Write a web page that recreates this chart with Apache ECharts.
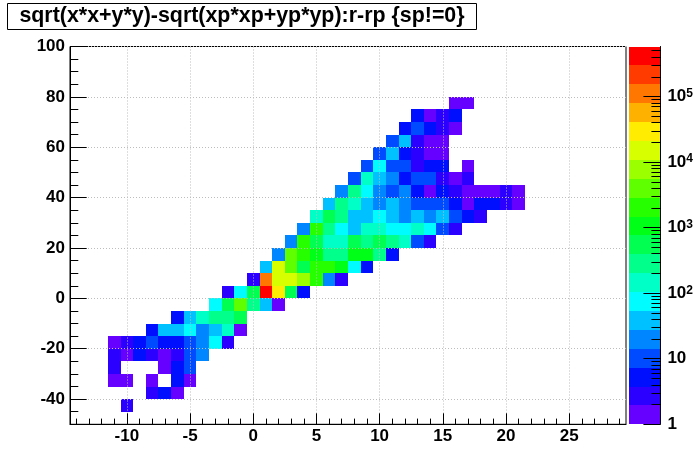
<!DOCTYPE html>
<html>
<head>
<meta charset="utf-8">
<script src="https://cdn.jsdelivr.net/npm/echarts@6/dist/echarts.min.js"></script>
<style>
  html, body { margin: 0; padding: 0; background: #fff; }
  #chart { width: 696px; height: 472px; }
</style>
</head>
<body>
<div id="chart"></div>
<script>
// ---------------- data ----------------
const TITLE = 'sqrt(x*x+y*y)-sqrt(xp*xp+yp*yp):r-rp {sp!=0}';

// histogram binning: x bins of width 1 centred on integers, y bins of width 5
const X_MIN = -14.5, X_MAX = 29.5, X_BIN = 1;
const Y_MIN = -50, Y_MAX = 100, Y_BIN = 5;

// tick values
const X_MAJOR_TICKS = [-10, -5, 0, 5, 10, 15, 20, 25];
const Y_MAJOR_TICKS = [-40, -20, 0, 20, 40, 60, 80, 100];
const Z_DECADES = [0, 1, 2, 3, 4, 5];   // log10 of colour-bar labels 1 .. 10^5

// one row per y bin (lower edge), first x bin centre, then bin contents
const ROW_Y_LOW   = [75, 70, 65, 60, 55, 50, 45, 40, 35, 30, 25, 20, 15, 10, 5, 0, -5, -10, -15, -20, -25, -30, -35, -40, -45];
const ROW_FIRST_X = [16, 13, 12, 11, 10,  9,  8,  7,  6,  5,  4,  3,  2,  1, 0, -2, -3, -6, -8, -11, -11, -11, -11, -8, -10];
const ROW_COUNTS = [
  [1, 1],
  [5, 1, 3, 5],
  [5, 10, 5, 3, 1],
  [10, 40, 3, 1, 1],
  [10, 40, 5, 3, 1, 1],
  [10, 75, 10, 10, 3, 5, 5, 0, 1],
  [10, 150, 40, 20, 5, 10, 10, 3, 1, 3],
  [20, 300, 75, 20, 10, 20, 5, 1, 5, 3, 1, 1, 1, 3, 1],
  [40, 300, 150, 40, 20, 40, 20, 10, 10, 10, 5, 1, 5, 5, 3, 1],
  [150, 550, 300, 40, 40, 75, 40, 20, 40, 20, 40, 10, 5, 3],
  [20, 2000, 300, 75, 40, 150, 150, 75, 75, 150, 75, 10, 3],
  [20, 2000, 550, 150, 150, 550, 300, 550, 300, 150, 10, 3],
  [20, 4000, 2000, 1000, 300, 300, 1000, 1000, 300, 5],
  [40, 15000, 4000, 550, 2000, 2000, 1000, 75, 5],
  [3, 110000, 15000, 15000, 8000, 2000, 20, 3],
  [3, 75, 550, 580000, 30000, 550, 5],
  [75, 550, 4000, 300, 40, 1],
  [5, 40, 150, 300, 300, 550],
  [5, 40, 40, 75, 20, 40, 150, 1],
  [1, 3, 5, 10, 5, 5, 10, 20, 75, 3],
  [3, 1, 5, 3, 1, 3, 10, 20],
  [3, 0, 0, 0, 1, 5, 10],
  [1, 1, 0, 1, 0, 5, 1],
  [3, 5, 1],
  [3]
];

// ROOT "pretty" palette, 20 contour levels (violet -> red)
const PALETTE = ['#6600FF', '#2B00FF', '#0010FF', '#004BFF', '#0086FF', '#00C1FF', '#00FCFF', '#00FFC6',
                 '#00FF8B', '#00FF50', '#00FF16', '#25FF00', '#60FF00', '#9CFF00', '#D7FF00', '#FFEC00',
                 '#FFB100', '#FF7600', '#FF3B00', '#FF0000'];
const N_LEVELS = PALETTE.length;

// ---------------- build series data ----------------
const cells = [];
let zMax = 1;
ROW_COUNTS.forEach((row, r) => {
  row.forEach((c, k) => {
    if (c > 0) {
      cells.push([ROW_FIRST_X[r] + k * X_BIN, ROW_Y_LOW[r], c]);
      if (c > zMax) zMax = c;
    }
  });
});
const Z_LOG_MAX = Math.log10(zMax);
function levelOf(v) {
  const k = Math.floor(Math.log10(v) / Z_LOG_MAX * N_LEVELS);
  return Math.max(0, Math.min(N_LEVELS - 1, k));
}
const barLevels = PALETTE.map((_, i) => [i]);

const zMinorTicks = [];
for (let d = 0; d <= 5; d++) {
  for (let m = 2; m <= 9; m++) {
    const v = d + Math.log10(m);
    if (v < Z_LOG_MAX) zMinorTicks.push(v);
  }
}
const xMinorTicks = [];
for (let x = Math.ceil(X_MIN); x <= X_MAX; x++) xMinorTicks.push(x);
const yMinorTicks = [];
for (let y = Y_MIN + Y_BIN; y < Y_MAX; y += Y_BIN) yMinorTicks.push(y);

// ---------------- chart ----------------
const FONT = '"Liberation Sans", Arial, Helvetica, sans-serif';
const chart = echarts.init(document.getElementById('chart'), null, { renderer: 'canvas' });

const gridLine = { show: true, lineStyle: { color: '#bdbdbd', width: 1, type: [1, 2] } };
const labelStyle = { color: '#000', fontFamily: FONT, fontWeight: 'bold', fontSize: 17 };

chart.setOption({
  animation: false,
  backgroundColor: '#fff',
  graphic: [
    { type: 'rect', shape: { x: 7.5, y: 3.5, width: 469, height: 26 },
      style: { fill: '#fff', stroke: '#000', lineWidth: 1 }, z: 10 },
    { type: 'text', x: 242, y: 16.5, z: 11,
      style: { text: TITLE, fill: '#000', font: 'bold 21.4px ' + FONT, align: 'center', verticalAlign: 'middle' } }
  ],
  grid: [
    { left: 70, top: 46.5, width: 556, height: 377.8, show: true, borderColor: '#000', borderWidth: 1, backgroundColor: 'transparent' },
    { left: 629, top: 46.5, width: 32, height: 377.8, show: false }
  ],
  xAxis: [
    { gridIndex: 0, type: 'value', min: X_MIN, max: X_MAX, position: 'bottom', z: 3,
      axisLine: { show: true, onZero: false, lineStyle: { color: '#000', width: 1 } },
      axisTick: { show: true, inside: true, length: 11, customValues: X_MAJOR_TICKS, lineStyle: { color: '#000' } },
      axisLabel: { show: true, customValues: X_MAJOR_TICKS, margin: 4, ...labelStyle },
      splitLine: gridLine },
    { gridIndex: 0, type: 'value', min: X_MIN, max: X_MAX, position: 'bottom', z: 3,
      axisLine: { show: false, onZero: false },
      axisTick: { show: true, inside: true, length: 5.7, customValues: xMinorTicks, lineStyle: { color: '#000' } },
      axisLabel: { show: false }, splitLine: { show: false } },
    { gridIndex: 1, type: 'value', min: 0, max: 1, show: false }
  ],
  yAxis: [
    { gridIndex: 0, type: 'value', min: Y_MIN, max: Y_MAX, position: 'left', z: 3,
      axisLine: { show: true, onZero: false, lineStyle: { color: '#000', width: 1 } },
      axisTick: { show: true, inside: true, length: 16.7, customValues: Y_MAJOR_TICKS, lineStyle: { color: '#000' } },
      axisLabel: { show: true, customValues: Y_MAJOR_TICKS, margin: 5, ...labelStyle },
      splitLine: gridLine },
    { gridIndex: 0, type: 'value', min: Y_MIN, max: Y_MAX, position: 'left', z: 3,
      axisLine: { show: false, onZero: false },
      axisTick: { show: true, inside: true, length: 8.3, customValues: yMinorTicks, lineStyle: { color: '#000' } },
      axisLabel: { show: false }, splitLine: { show: false } },
    { gridIndex: 1, type: 'value', min: 0, max: Z_LOG_MAX, position: 'right', z: 3,
      axisLine: { show: true, onZero: false, lineStyle: { color: '#000', width: 1 } },
      axisTick: { show: true, inside: true, length: 17, customValues: Z_DECADES, lineStyle: { color: '#000' } },
      axisLabel: { show: true, customValues: Z_DECADES, margin: 7, ...labelStyle,
        formatter: v => v === 0 ? '{b|1}' : v === 1 ? '{b|10}' : '{b|10}{s|' + v + '}',
        rich: { b: { fontFamily: FONT, fontWeight: 'bold', fontSize: 17, color: '#000' },
                s: { fontFamily: FONT, fontWeight: 'bold', fontSize: 12, color: '#000', verticalAlign: 'top', padding: [0, 0, 6, 0] } } },
      splitLine: { show: false } },
    { gridIndex: 1, type: 'value', min: 0, max: Z_LOG_MAX, position: 'right', z: 3,
      axisLine: { show: false, onZero: false },
      axisTick: { show: true, inside: true, length: 9, customValues: zMinorTicks, lineStyle: { color: '#000' } },
      axisLabel: { show: false }, splitLine: { show: false } }
  ],
  series: [
    { type: 'custom', xAxisIndex: 0, yAxisIndex: 0, z: 2, data: cells,
      renderItem: (params, api) => {
        const x = api.value(0), y = api.value(1), v = api.value(2);
        const p0 = api.coord([x - X_BIN / 2, y + Y_BIN]);
        const p1 = api.coord([x + X_BIN / 2, y]);
        const x0 = Math.round(p0[0]), y0 = Math.round(p0[1]);
        const x1 = Math.round(p1[0]), y1 = Math.round(p1[1]);
        return { type: 'rect', shape: { x: x0, y: y0, width: x1 - x0, height: y1 - y0 },
                 style: { fill: PALETTE[levelOf(v)] } };
      } },
    { type: 'custom', xAxisIndex: 2, yAxisIndex: 2, z: 2, data: barLevels,
      renderItem: (params, api) => {
        const k = api.value(0);
        const lo = k * Z_LOG_MAX / N_LEVELS, hi = (k + 1) * Z_LOG_MAX / N_LEVELS;
        const p0 = api.coord([0, hi]);
        const p1 = api.coord([1, lo]);
        const y0 = Math.round(p0[1]), y1 = Math.round(p1[1]);
        return { type: 'rect', shape: { x: p0[0], y: y0, width: p1[0] - p0[0], height: y1 - y0 },
                 style: { fill: PALETTE[k] } };
      } }
  ]
});
</script>
</body>
</html>
